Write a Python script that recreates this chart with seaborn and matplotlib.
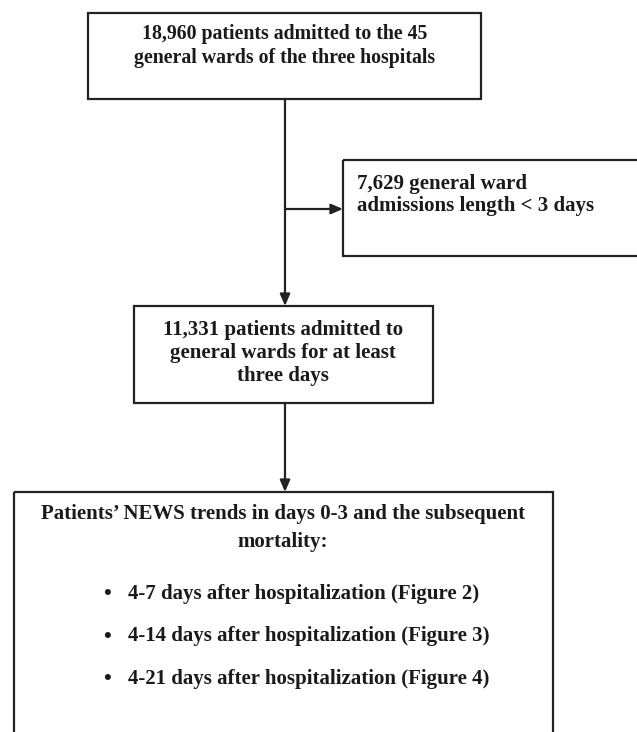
import seaborn as sns
import matplotlib.pyplot as plt
from matplotlib.patches import Rectangle

# flow counts and box labels
counts = [18960, 7629, 11331]
box_labels = [
    f"{counts[0]:,} patients admitted to the 45\ngeneral wards of the three hospitals",
    f"{counts[1]:,} general ward\nadmissions length < 3 days",
    f"{counts[2]:,} patients admitted to\ngeneral wards for at least\nthree days",
]
final_title = "Patients\u2019 NEWS trends in days 0-3 and the subsequent\nmortality:"
outcome_windows = ["4-7", "4-14", "4-21"]
outcome_figures = [2, 3, 4]

sns.set_style("white")
plt.rcParams['font.family'] = ['Liberation Serif', 'DejaVu Serif']

fig = plt.figure(figsize=(6.37, 7.32), dpi=100)
ax = fig.add_axes([0, 0, 1, 1])
ax.set_xlim(0, 637)
ax.set_ylim(732, 0)
ax.axis("off")

lc = "#222222"
tc = "#1a1a1a"
lw = 1.6
fs = 15

def box(x0, y0, x1, y1):
    ax.add_patch(Rectangle((x0, y0), x1 - x0, y1 - y0, fill=False,
                           edgecolor=lc, linewidth=lw, clip_on=True))

def arrow(x0, y0, x1, y1):
    ax.annotate("", xy=(x1, y1), xytext=(x0, y0),
                arrowprops=dict(arrowstyle="-|>,head_length=0.7,head_width=0.3",
                                color=lc, lw=lw, shrinkA=0, shrinkB=0))

# boxes
box(88, 13, 481, 99)
box(343, 160, 660, 256)
box(134, 306, 433, 403)
box(14, 492, 553, 760)

# connectors
ax.plot([285, 285], [99, 209], color=lc, lw=lw)
arrow(285, 209, 343, 209)
arrow(285, 209, 285, 306)
arrow(285, 403, 285, 492)

# text
ax.text(285, 46, box_labels[0], ha="center", va="center", fontsize=14.3,
        fontweight="bold", linespacing=1.2, color=tc)
ax.text(357, 195, box_labels[1], ha="left", va="center", fontsize=fs,
        fontweight="bold", linespacing=1.1, color=tc)
ax.text(283, 353, box_labels[2], ha="center", va="center", fontsize=fs,
        fontweight="bold", linespacing=1.22, color=tc)
ax.text(283, 528, final_title, ha="center", va="center", fontsize=fs,
        fontweight="bold", linespacing=1.55, color=tc)

for i, (w, f) in enumerate(zip(outcome_windows, outcome_figures)):
    y = 594 + i * 42.5
    ax.text(107, y, "\u2022", ha="center", va="center", fontsize=fs + 1,
            fontweight="bold", color=tc)
    ax.text(128, y, f"{w} days after hospitalization (Figure {f})", ha="left",
            va="center", fontsize=fs, fontweight="bold", color=tc)

fig.savefig("out.png", dpi=100)
